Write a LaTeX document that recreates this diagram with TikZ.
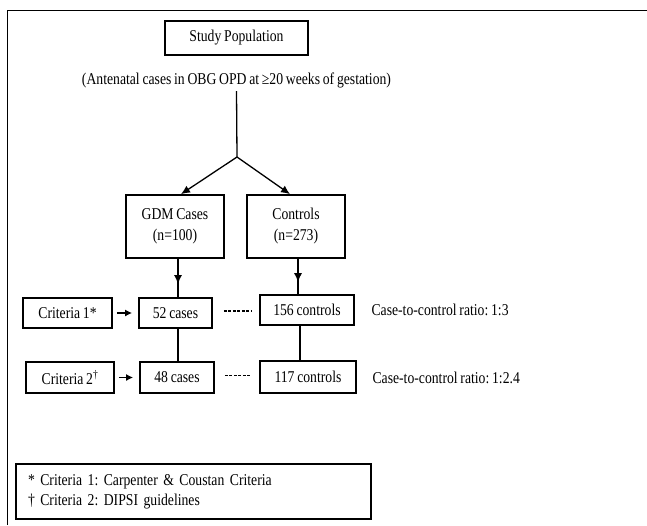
\documentclass[tikz,border=0pt]{standalone}
\usepackage{fontspec}
\setmainfont{Liberation Serif}[FakeStretch=0.83, WordSpace=0.8]
\frenchspacing
\usepackage{tikz}
\usetikzlibrary{calc, arrows.meta, positioning}

\begin{document}
\begin{tikzpicture}[>={Latex[length=9pt,width=8pt]}, x=1pt, y=-1pt, font=\fontsize{16.5}{21}\selectfont]
\tikzset{
  box/.style={draw, line width=1.7pt, inner sep=0pt, align=center},
  link/.style={line width=1.3pt}
}
\useasboundingbox (0,0) rectangle (647,525);
\draw [line width=1pt] (7,525) -- (7,10) -- (647,10);

\node[box, minimum width=143pt, minimum height=34pt] (study) at (236.5,38) {Study Population};
\node (ante) at (236.5,80) {(Antenatal cases in OBG OPD at ≥20 weeks of gestation)};
\coordinate (split) at (237,157);

\node[box, minimum width=98pt, minimum height=63pt] (gdm) at (175,226.5) {GDM Cases\\(n=100)};
\node[box, minimum width=98pt, minimum height=63pt] (ctrl) at (296,226.5) {Controls\\(n=273)};

\node[box, minimum width=89pt, minimum height=30pt] (crit1) at (67.5,313) {Criteria 1*};
\node[box, minimum width=73pt, minimum height=30pt] (c52) at (175.5,313) {52 cases};
\node[box, minimum width=94pt, minimum height=30pt] (c156) at (307,310) {156 controls};
\node[anchor=west] (ratio1) at (368,310) {Case-to-control ratio: 1:3};

\node[box, minimum width=88pt, minimum height=31pt] (crit2) at (70,377.5) {Criteria 2\textsuperscript{†}};
\node[box, minimum width=74pt, minimum height=31pt] (c48) at (177,377.5) {48 cases};
\node[box, minimum width=96pt, minimum height=32pt] (c117) at (308,377) {117 controls};
\node[anchor=west] (ratio2) at (369,378) {Case-to-control ratio: 1:2.4};

\node[box, text width=331pt, minimum height=55pt, inner sep=12pt, inner ysep=0pt,
  align=left, font=\fontsize{16.5}{20}\selectfont] (legend) at (193.5,491.5)
  {* Criteria 1: Carpenter \& Coustan Criteria\\† Criteria 2: DIPSI guidelines};

% connectors
\draw [link] (ante.south) -- (split);
\draw [link,->] (split) -- ($(gdm.north)+(6,0)$);
\draw [link,->] (split) -- ($(ctrl.north)+(-6,0)$);
\coordinate (gtop) at ($(gdm.south)+(3,0)$);
\coordinate (gbot) at ($(gdm.south |- c52.north)+(3,0)$);
\coordinate (ctop) at ($(ctrl.south)+(2,0)$);
\coordinate (cbot) at ($(ctrl.south |- c156.north)+(2,0)$);
\draw [link,->] (gtop) -- ($(gtop)!0.66!(gbot)$);
\draw [link] ($(gtop)!0.5!(gbot)$) -- (gbot);
\draw [link,->] (ctop) -- ($(ctop)!0.66!(cbot)$);
\draw [link] ($(ctop)!0.5!(cbot)$) -- (cbot);
\draw [link] ($(c52.south)+(2.5,0)$) -- ($(c52.south |- c48.north)+(2.5,0)$);
\draw [link] ($(c156.south)+(-7,0)$) -- ($(c156.south |- c117.north)+(-7,0)$);
\draw [->,line width=1.6pt,>={Latex[length=7pt,width=7pt]},shorten <=4pt,shorten >=6pt] (crit1) -- (c52);
\draw [->,line width=1.6pt,>={Latex[length=7pt,width=7pt]},shorten <=4pt,shorten >=6pt] (crit2) -- (c48);
\draw [link,dash pattern=on 3pt off 1.5pt,shorten <=11pt,shorten >=8pt] ($(c52.east)+(0,-2)$) -- ($(c52.east -| c156.west)+(0,-2)$);
\draw [link,dash pattern=on 3pt off 1.5pt,shorten <=10pt,shorten >=8pt] ($(c48.east)+(0,-2)$) -- ($(c48.east -| c117.west)+(0,-2)$);
\end{tikzpicture}
\end{document}
